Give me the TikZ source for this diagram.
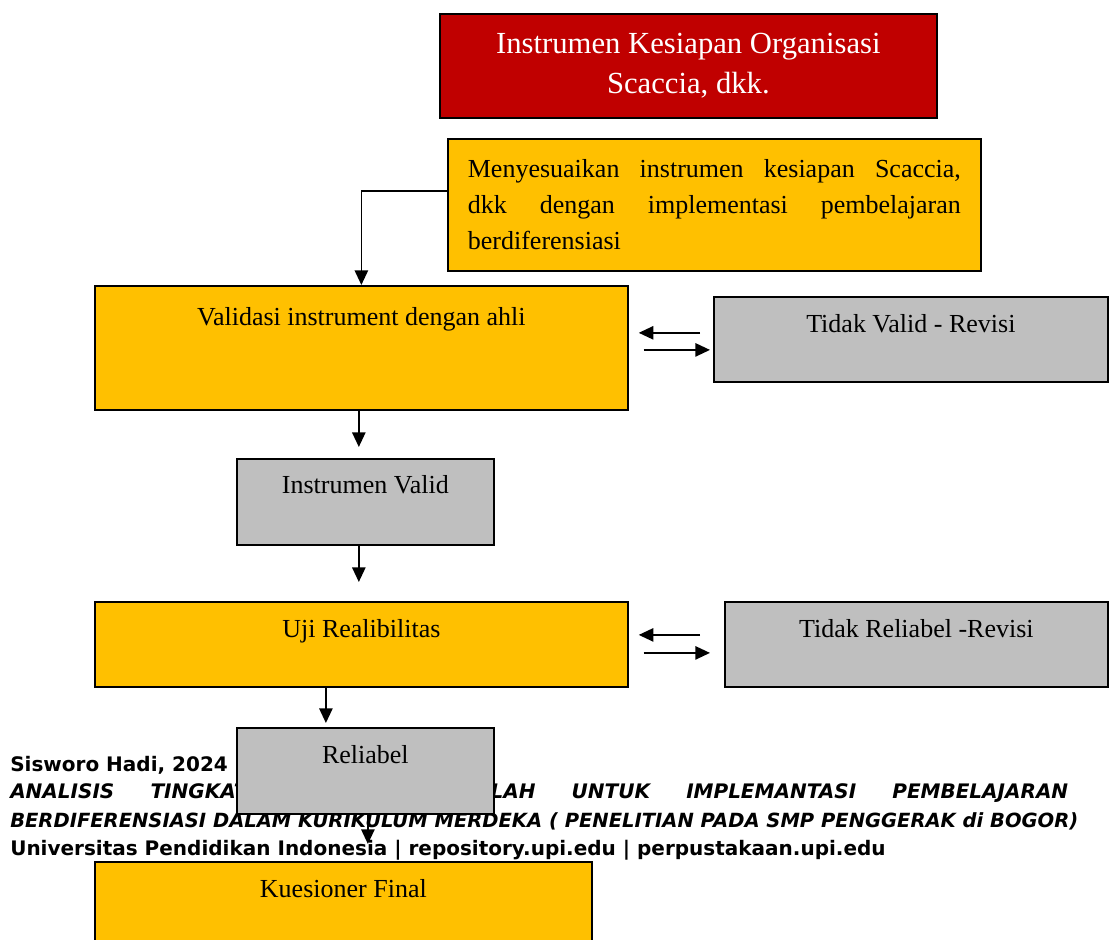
\documentclass[tikz,border=0pt]{standalone}
\usepackage{fontspec}
\setmainfont{Liberation Serif}
\newfontfamily\footfont{DejaVu Sans}
\usetikzlibrary{arrows.meta}
\definecolor{titlered}{HTML}{C00000}
\definecolor{boxorange}{HTML}{FFC000}
\definecolor{boxgray}{HTML}{BFBFBF}
\hyphenpenalty=10000
\exhyphenpenalty=10000

\begin{document}
\begin{tikzpicture}[
        x=0.75pt, y=-0.75pt,
        box/.style={rectangle, draw, line width=1.3pt, anchor=north west, inner sep=0pt, font=\fontsize{19.5}{24}\selectfont},
        orangebox/.style={box, fill=boxorange},
        graybox/.style={box, fill=boxgray},
        line/.style={draw, line width=1.3pt, -{Triangle[length=11pt, width=10pt]}},
        foot/.style={anchor=base west, inner sep=0pt, font=\footfont\bfseries\fontsize{15}{18}\selectfont},
        footit/.style={foot, font=\footfont\bfseries\itshape\fontsize{15}{18}\selectfont}
    ]
    \useasboundingbox (0,0) rectangle (1109,939);

    % Footer
    \node [foot] (author) at (10,771) {Sisworo Hadi, 2024};
    \node [footit] (thesis1) at (10,798) {\makebox[793.5pt][s]{ANALISIS TINGKAT KESIAPAN SEKOLAH UNTUK IMPLEMANTASI PEMBELAJARAN}};
    \node [footit] (thesis2) at (10,827) {\resizebox{801pt}{!}{BERDIFERENSIASI DALAM KURIKULUM MERDEKA ( PENELITIAN PADA SMP PENGGERAK di BOGOR)}};
    \node [foot] (univ) at (10,855) {Universitas Pendidikan Indonesia | repository.upi.edu | perpustakaan.upi.edu};

    % Nodes
    \node [box, fill=titlered, text=white, minimum width=372.75pt, minimum height=78pt, align=center, font=\fontsize{23}{30}\selectfont] (source) at (439,13) {Instrumen Kesiapan Organisasi\\Scaccia, dkk.};
    \node [orangebox, minimum width=399.75pt, minimum height=99pt, text width=369.75pt, align=justify, font=\fontsize{19.5}{27}\selectfont] (adjust) at (447,138) {Menyesuaikan instrumen kesiapan Scaccia,\linebreak dkk dengan implementasi pembelajaran berdiferensiasi};
    \node [orangebox, minimum width=399.75pt, text height=30pt, text depth=63pt] (validasi) at (94,285) {Validasi instrument dengan ahli};
    \node [graybox, minimum width=295.5pt, text height=27pt, text depth=36.75pt] (tvalid) at (713,296) {Tidak Valid - Revisi};
    \node [graybox, minimum width=192.75pt, text height=26.25pt, text depth=38.25pt] (ivalid) at (236,458) {Instrumen Valid};
    \node [orangebox, minimum width=399.75pt, text height=27pt, text depth=36.75pt] (uji) at (94,601) {Uji Realibilitas};
    \node [graybox, minimum width=287.25pt, text height=27pt, text depth=36.75pt] (treliabel) at (724,601) {Tidak Reliabel -Revisi};
    \node [graybox, minimum width=192.75pt, text height=27pt, text depth=37.5pt] (reliabel) at (236,727) {Reliabel};
    \node [orangebox, minimum width=372.75pt, text height=27pt, text depth=60pt] (final) at (94,861) {Kuesioner Final};

    % Edges
    \path [line] ([yshift=10.5pt]adjust.west) -| (validasi.north);
    \path [line, shorten <=9.75pt, shorten >=7.5pt] ([yshift=4.9pt]tvalid.west) -- ([yshift=4.9pt]tvalid.west -| validasi.east);
    \path [line, shorten <=11.25pt, shorten >=2.25pt] ([yshift=-7.9pt]tvalid.west -| validasi.east) -- ([yshift=-7.9pt]tvalid.west);
    \path [line, shorten >=8.25pt] ([xshift=-1.9pt]validasi.south) -- ([xshift=-1.9pt]validasi.south |- ivalid.north);
    \path [line, shorten >=14.25pt] ([xshift=-4.9pt]ivalid.south) -- ([xshift=-4.9pt]ivalid.south |- uji.north);
    \path [line, shorten <=18pt, shorten >=7.5pt] ([yshift=7.1pt]treliabel.west) -- ([yshift=7.1pt]treliabel.west -| uji.east);
    \path [line, shorten <=11.25pt, shorten >=10.5pt] ([yshift=-6.4pt]treliabel.west -| uji.east) -- ([yshift=-6.4pt]treliabel.west);
    \path [line, shorten >=3pt] ([xshift=-26.6pt]uji.south) -- ([xshift=-26.6pt]uji.south |- reliabel.north);
    \path [line, shorten >=12.75pt] ([xshift=1.9pt]reliabel.south) -- ([xshift=1.9pt]reliabel.south |- final.north);

\end{tikzpicture}
\end{document}
